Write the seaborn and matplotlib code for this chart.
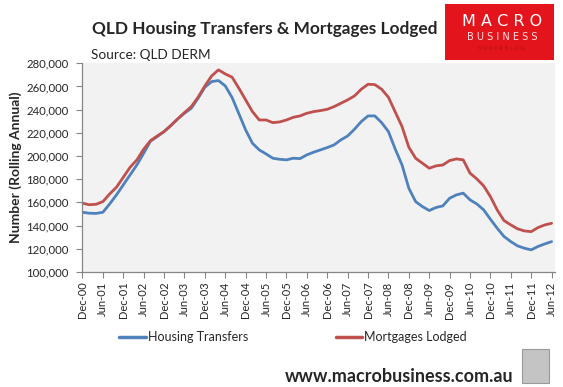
import pandas as pd
import seaborn as sns
import matplotlib.pyplot as plt
from matplotlib.patches import Rectangle
from matplotlib.lines import Line2D
from matplotlib.ticker import FuncFormatter

# months since Dec-00, read every second month off the chart
months = list(range(0, 139, 2))

transfers = [151.5, 150.7, 150.5, 151.5, 158.7, 166.5, 175.1, 183.7, 192.3, 202.4,
             212.8, 216.8, 221.1, 226.3, 232.0, 236.9, 241.2, 249.8, 259.3, 264.2,
             265.1, 260.5, 250.5, 236.5, 222.5, 211.0, 205.3, 201.8, 198.1, 197.2,
             196.7, 198.1, 197.8, 201.0, 203.3, 205.3, 207.3, 209.6, 213.9, 217.3,
             223.1, 229.7, 234.6, 234.6, 228.8, 221.1, 206.0, 192.3, 172.2, 160.7,
             156.4, 153.0, 155.6, 157.0, 163.6, 166.5, 168.0, 162.2, 158.7, 153.6,
             145.5, 137.7, 130.6, 126.2, 122.5, 120.5, 119.1, 122.0, 124.2, 126.2]

mortgages = [159.3, 158.0, 158.4, 160.7, 167.3, 173.1, 181.7, 190.3, 196.7, 205.9,
             213.3, 217.3, 221.1, 226.3, 232.0, 237.5, 242.6, 250.7, 260.5, 269.1,
             274.3, 270.8, 268.0, 258.5, 248.4, 238.3, 231.1, 231.1, 228.8, 229.4,
             231.1, 233.4, 234.6, 236.9, 238.3, 239.2, 240.3, 242.6, 245.5, 248.4,
             251.8, 257.6, 261.9, 261.6, 257.6, 250.7, 238.0, 225.4, 207.6, 198.1,
             193.8, 189.5, 191.5, 192.3, 196.1, 197.5, 196.7, 185.2, 180.3, 174.3,
             165.0, 153.5, 144.3, 140.6, 137.2, 135.4, 134.8, 138.3, 140.6, 142.0]

tick_labels = ["Dec-00", "Jun-01", "Dec-01", "Jun-02", "Dec-02", "Jun-03", "Dec-03",
               "Jun-04", "Dec-04", "Jun-05", "Dec-05", "Jun-06", "Dec-06", "Jun-07",
               "Dec-07", "Jun-08", "Dec-08", "Jun-09", "Dec-09", "Jun-10", "Dec-10",
               "Jun-11", "Dec-11", "Jun-12"]

series_names = ["Housing Transfers", "Mortgages Lodged"]
colors = ["#4F81BD", "#C0504D"]

df = pd.concat([
    pd.DataFrame({"month": months, "value": [v * 1000 for v in transfers], "series": series_names[0]}),
    pd.DataFrame({"month": months, "value": [v * 1000 for v in mortgages], "series": series_names[1]}),
])

sns.set_style("white")
plt.rcParams["font.family"] = ["Lato", "DejaVu Sans"]

fig = plt.figure(figsize=(5.63, 3.87), dpi=100)
ax = fig.add_axes([0.1465, 0.2972, 0.8393, 0.5393])
ax.set_facecolor("#F2F2F2")

sns.lineplot(data=df, x="month", y="value", hue="series", palette=colors,
             linewidth=2.0, ax=ax, legend=False)

ax.set_xlim(0, 139)
ax.set_ylim(100000, 280000)
ax.set_yticks(range(100000, 280001, 20000))
ax.yaxis.set_major_formatter(FuncFormatter(lambda v, p: f"{v:,.0f}"))
ax.set_xticks(range(0, 139, 6))
ax.set_xticklabels(tick_labels, rotation=90, fontsize=8)
ax.tick_params(axis="y", labelsize=8.2, length=4, color="#868686", left=True, pad=6)
ax.tick_params(axis="x", length=4, color="#868686", bottom=True, pad=3)
ax.set_xlabel("")
ax.set_ylabel("Number (Rolling Annual)", fontsize=10, fontweight="bold", labelpad=3)

for s in ["top", "right"]:
    ax.spines[s].set_visible(False)
for s in ["left", "bottom"]:
    ax.spines[s].set_color("#868686")
    ax.spines[s].set_linewidth(0.9)

# title and source
fig.text(92 / 563, 1 - 29 / 387, "QLD Housing Transfers & Mortgages Lodged",
         fontsize=12.4, fontweight="bold", va="center", ha="left")
fig.text(91 / 563, 1 - 55 / 387, "Source: QLD DERM", fontsize=9.8, va="center", ha="left")

# logo box
fig.patches.append(Rectangle((445 / 563, 1 - 60 / 387), 109 / 563, 56 / 387,
                             transform=fig.transFigure, facecolor="#E3141B",
                             edgecolor="none"))
fig.text(502 / 563, 1 - 21 / 387, "M A C R O", color="white", fontsize=11.5,
         ha="center", va="center", family=["DejaVu Sans"])
fig.text(502 / 563, 1 - 37 / 387, "B U S I N E S S", color="#FCE4E4", fontsize=7,
         ha="center", va="center", family=["DejaVu Sans"])
fig.text(502 / 563, 1 - 48 / 387, "S U P E R B L O G", color="#B01015", fontsize=4,
         ha="center", va="center", family=["DejaVu Sans"])

# legend
handles = [Line2D([], [], color=c, linewidth=2.5) for c in colors]
fig.legend(handles, series_names, loc="center", bbox_to_anchor=(293 / 563, 1 - 337 / 387),
           ncol=2, frameon=False, fontsize=9, handlelength=2.15, handletextpad=0.15,
           columnspacing=7.0)

# footer
fig.text(513 / 563, 1 - 376 / 387, "www.macrobusiness.com.au", fontsize=13,
         fontweight="bold", ha="right", va="center")
fig.patches.append(Rectangle((522 / 563, 1 - 383 / 387), 27 / 563, 34 / 387,
                             transform=fig.transFigure, facecolor="#C4C4C4",
                             edgecolor="#9A9A9A", linewidth=0.8))

fig.savefig("out.png", dpi=100)
